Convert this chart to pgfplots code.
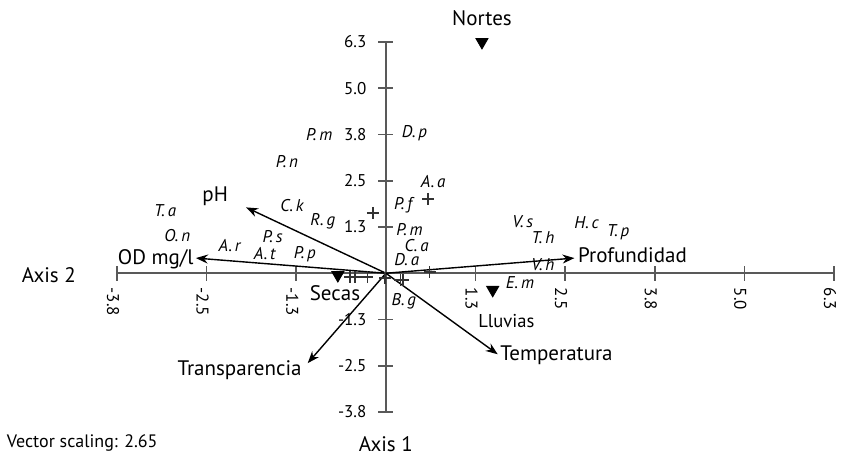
\documentclass[border=0pt]{standalone}
\usepackage{fontspec}
\setmainfont{PT Sans}
\usepackage{pgfplots}
\usepackage{pgfplotstable}
\pgfplotsset{compat=1.18}
\usetikzlibrary{arrows.meta}

% species scores (label centres)
\pgfplotstableread{
x y name
-3.08 1.68 T.\,a
-2.91 1.03 O.\,n
-2.18 0.76 A.\,r
-1.58 0.98 P.\,s
-1.69 0.52 A.\,t
-1.13 0.52 P.\,p
-1.31 1.84 C.\,k
-0.88 1.41 R.\,g
-0.93 3.76 P.\,m
-1.38 3.03 P.\,n
0.40 3.79 D.\,p
0.66 2.49 A.\,a
0.24 1.84 P.\,f
0.33 1.17 P.\,m
0.43 0.76 C.\,a
0.29 0.36 D.\,a
0.25 -0.76 B.\,g
1.91 1.39 V.\,s
2.80 1.36 H.\,c
3.24 1.11 T.\,p
2.19 0.95 T.\,h
2.19 0.22 V.\,h
1.87 -0.26 E.\,m
}\species

% sample scores
\pgfplotstableread{
x y
-0.18 1.63
0.59 2.01
-0.50 -0.10
-0.43 -0.10
-0.26 -0.10
-0.01 -0.13
0.20 -0.18
0.24 -0.18
0.61 0.03
}\samples

% seasons (centroids)
\pgfplotstableread{
x y
1.34 6.25
-0.67 -0.05
1.49 -0.45
}\seasons

% large labels
\pgfplotstableread{
x y name
-2.38 2.09 pH
-3.21 0.39 {OD mg/l}
-2.04 -2.61 Transparencia
2.38 -2.21 Temperatura
3.44 0.49 Profundidad
1.34 6.89 Nortes
-0.71 -0.53 Secas
1.68 -1.29 {\fontsize{9.3}{11}\selectfont Lluvias}
-4.70 -0.05 {Axis 2}
0.00 -4.62 {Axis 1}
}\biglabels

\begin{document}
\begin{tikzpicture}
\path[use as bounding box] (-58.5pt,-23pt) rectangle (362pt,206pt);
\begin{axis}[
  at={(0,0)}, anchor=south west,
  scale only axis,
  width=358.5pt, height=185pt,
  xmin=-3.75, xmax=6.25, ymin=-3.75, ymax=6.25,
  axis lines=middle,
  axis line style={draw=black!65, line width=1pt, -},
  tick style={draw=black!65, line width=0.8pt},
  major tick length=7.5pt,
  tick align=center,
  clip=false,
  xtick={-3.75,-2.5,-1.25,1.25,2.5,3.75,5,6.25},
  xticklabels={-3.8,-2.5,-1.3,1.3,2.5,3.8,5.0,6.3},
  ytick={-3.75,-2.5,-1.25,1.25,2.5,3.75,5,6.25},
  yticklabels={-3.8,-2.5,-1.3,1.3,2.5,3.8,5.0,6.3},
  ticklabel style={font=\fontsize{8.5}{10}\selectfont},
  xticklabel style={rotate=-90, anchor=west, yshift=-2pt},
  yticklabel style={anchor=east, xshift=-2.5pt},
]
% environmental vectors
\addplot[black, line width=0.7pt, -{Stealth[length=6pt,width=4.5pt]}] coordinates {(0,0) (-1.95,1.78)};
\addplot[black, line width=0.7pt, -{Stealth[length=6pt,width=4.5pt]}] coordinates {(0,0) (-2.65,0.41)};
\addplot[black, line width=0.7pt, -{Stealth[length=6pt,width=4.5pt]}] coordinates {(0,0) (-1.09,-2.43)};
\addplot[black, line width=0.7pt, -{Stealth[length=6pt,width=4.5pt]}] coordinates {(0,0) (1.56,-2.19)};
\addplot[black, line width=0.7pt, -{Stealth[length=6pt,width=4.5pt]}] coordinates {(0,0) (2.63,0.41)};

\addplot[only marks, mark=+, mark size=3pt, black!80, line width=0.7pt] table {\samples};
\addplot[only marks, mark=triangle*, mark size=3.5pt, black,
  mark options={rotate=180}] table {\seasons};

\addplot[only marks, mark=none, nodes near coords, point meta=explicit symbolic,
  nodes near coords style={anchor=center, inner sep=0pt,
    font=\itshape\fontsize{8.5}{10}\selectfont}]
  table[meta=name] {\species};
\addplot[only marks, mark=none, nodes near coords, point meta=explicit symbolic,
  nodes near coords style={anchor=center, inner sep=0pt,
    font=\fontsize{10.5}{12}\selectfont}]
  table[meta=name] {\biglabels};

\node[anchor=west, inner sep=0pt, font=\fontsize{9}{11}\selectfont]
  at (axis cs:-5.29,-4.59) {Vector scaling: 2.65};
\end{axis}
\end{tikzpicture}
\end{document}
